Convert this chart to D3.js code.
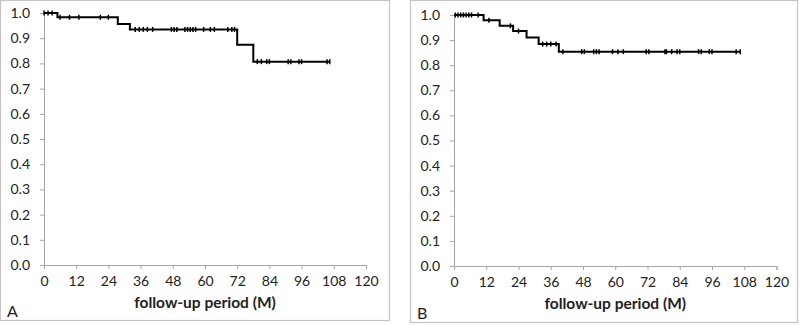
<!DOCTYPE html>
<html>
<head>
<meta charset="utf-8">
<script src="https://cdn.jsdelivr.net/npm/d3@7"></script>
<style>
  body { margin: 0; background: #fff; }
  svg text { font-family: Lato, "Open Sans", sans-serif; fill: #222; }
</style>
</head>
<body>
<div id="chart"></div>
<script>
// Kaplan-Meier data (months, survival)
const xTicks = [0, 12, 24, 36, 48, 60, 72, 84, 96, 108, 120];
const yTicks = [0, 0.1, 0.2, 0.3, 0.4, 0.5, 0.6, 0.7, 0.8, 0.9, 1.0];

const eventTimesA = [0, 5, 27.5, 32, 72, 78];
const survA = [1.0, 0.983, 0.956, 0.935, 0.874, 0.807];
const censorA = [0, 1.5, 3, 6, 9.5, 13, 21, 24, 34, 35.5, 37, 38.5, 40.5, 47.5, 48.5, 49.5,
  52.5, 53.5, 54.5, 55.5, 56.5, 59.5, 62, 63.5, 68.5, 70, 71, 79.5, 81, 83, 84,
  91, 92, 95, 96, 105.5, 106.5];

const eventTimesB = [0, 11, 17, 22, 27, 31.5, 39];
const survB = [1.0, 0.979, 0.957, 0.936, 0.910, 0.884, 0.854];
const censorB = [0.5, 1.5, 2.5, 3.5, 4.5, 5.5, 6.5, 9, 13, 21, 24, 33, 34.5, 36, 38, 40.5,
  47.5, 48.5, 52, 53, 54, 59, 61, 63, 71.5, 72.5, 78.5, 79, 81, 83, 84,
  91, 92, 95, 96, 105, 106.5];

const panels = [
  { label: "A", times: eventTimesA, surv: survA, censor: censorA,
    box: [0, 0, 389, 320], x0: 44, x1: 366, yTop: 13, yBot: 265 },
  { label: "B", times: eventTimesB, surv: survB, censor: censorB,
    box: [410, 0, 797, 322], x0: 454, x1: 776.5, yTop: 15, yBot: 266 }
];

const svg = d3.select("#chart").append("svg")
  .attr("width", 800)
  .attr("height", 325);

// survival value at time t (step function)
function survAt(times, surv, t) {
  let s = surv[0];
  times.forEach((d, i) => { if (d <= t) s = surv[i]; });
  return s;
}

panels.forEach(p => {
  const g = svg.append("g");

  // outer frame
  g.append("rect")
    .attr("x", p.box[0] + 0.5)
    .attr("y", p.box[1] + 0.5)
    .attr("width", p.box[2] - p.box[0])
    .attr("height", p.box[3] - p.box[1])
    .attr("fill", "none")
    .attr("stroke", "#c4c4c4")
    .attr("stroke-width", 1.2);

  const x = d3.scaleLinear().domain([0, 120]).range([p.x0, p.x1]);
  const y = d3.scaleLinear().domain([0, 1]).range([p.yBot, p.yTop]);

  // x axis
  const xAxis = g.append("g")
    .attr("transform", `translate(0,${p.yBot})`)
    .call(d3.axisBottom(x).tickValues(xTicks).tickSize(4).tickPadding(7).tickFormat(d3.format("d")));
  // y axis
  const yAxis = g.append("g")
    .attr("transform", `translate(${p.x0},0)`)
    .call(d3.axisLeft(y).tickValues(yTicks).tickSize(4).tickPadding(10).tickFormat(d3.format(".1f")));

  [xAxis, yAxis].forEach(a => {
    a.select(".domain").attr("stroke", "#a6a6a6");
    a.selectAll(".tick line").attr("stroke", "#a6a6a6");
    a.selectAll(".tick text")
      .attr("font-size", 14)
      .style("font-family", "Lato, 'Open Sans', sans-serif")
      .attr("fill", "#222");
  });

  // KM step curve
  const lastT = d3.max(p.censor);
  const pts = p.times.map((t, i) => [t, p.surv[i]]);
  pts.push([lastT, p.surv[p.surv.length - 1]]);
  g.append("path")
    .datum(pts)
    .attr("fill", "none")
    .attr("stroke", "#000")
    .attr("stroke-width", 2)
    .attr("d", d3.line().x(d => x(d[0])).y(d => y(d[1])).curve(d3.curveStepAfter));

  // censor marks
  g.selectAll(".cens")
    .data(p.censor)
    .enter().append("line")
      .attr("x1", d => x(d))
      .attr("x2", d => x(d))
      .attr("y1", d => y(survAt(p.times, p.surv, d)) - 2.5)
      .attr("y2", d => y(survAt(p.times, p.surv, d)) + 2.5)
      .attr("stroke", "#000")
      .attr("stroke-width", 1.5);

  // axis title
  g.append("text")
    .attr("x", (p.x0 + p.x1) / 2)
    .attr("y", p.yBot + 43)
    .attr("text-anchor", "middle")
    .attr("font-size", 15.5)
    .attr("font-weight", "bold")
    .text("follow-up period (M)");

  // panel label
  g.append("text")
    .attr("x", p.box[0] + 7)
    .attr("y", p.box[3] - 3)
    .attr("font-size", 16)
    .text(p.label);
});
</script>
</body>
</html>
